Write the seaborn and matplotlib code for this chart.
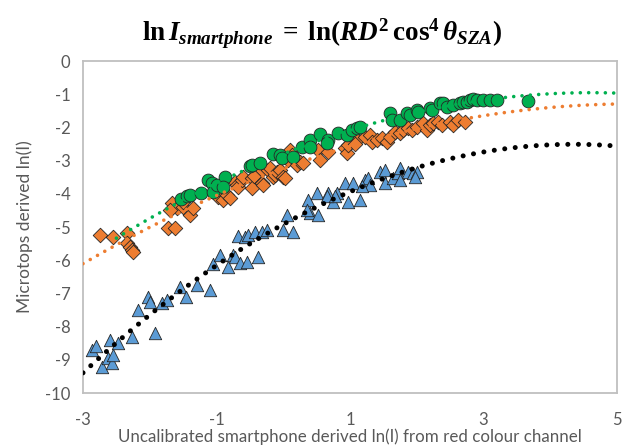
import numpy as np
import pandas as pd
import matplotlib
matplotlib.use("Agg")
import matplotlib.pyplot as plt
import seaborn as sns

# Green circles
green_x = [-1.53, -1.44, -1.40, -1.23, -1.13, -1.07, -1.05, -0.99, -0.87, -0.90,
           -0.50, -0.47, -0.35, -0.15, -0.05, -0.02, 0.15, 0.28, 0.40, 0.40,
           0.55, 0.67, 0.66, 0.82, 0.96, 1.03, 1.11, 1.15, 1.60, 1.63,
           1.75, 1.85, 1.90, 2.00, 2.02, 2.20, 2.23, 2.35, 2.39, 2.45,
           2.54, 2.65, 2.69, 2.75, 2.80, 2.84, 2.90, 2.99, 3.10, 3.20, 3.67]
green_y = [-4.16, -4.07, -4.04, -3.98, -3.58, -3.68, -3.95, -3.74, -3.49, -3.80,
           -3.16, -3.13, -3.07, -2.80, -2.83, -2.92, -2.89, -2.59, -2.38, -2.59,
           -2.20, -2.38, -2.47, -2.17, -2.23, -2.08, -2.02, -1.99, -1.57, -1.78,
           -1.78, -1.57, -1.63, -1.48, -1.54, -1.42, -1.48, -1.27, -1.27, -1.39,
           -1.33, -1.27, -1.24, -1.24, -1.18, -1.15, -1.18, -1.18, -1.18, -1.18, -1.21]

# Orange diamonds
orange_x = [-2.75, -2.55, -2.34, -2.34, -2.30, -2.27, -2.25, -1.73, -1.62, -1.67,
            -1.59, -1.70, -1.50, -1.40, -1.35, -1.50, -0.98, -0.92, -0.90, -0.84,
            -0.80, -0.72, -0.69, -0.68, -0.62, -0.60, -0.47, -0.47, -0.44, -0.32,
            -0.30, -0.32, -0.23, -0.20, -0.15, -0.12, -0.09, -0.05, 0.00, 0.03,
            0.10, 0.13, 0.07, 0.21, 0.25, 0.30, 0.52, 0.55, 0.67, 0.93,
            0.96, 0.97, 1.11, 1.08, 1.23, 1.30, 1.33, 1.40, 1.48, 1.55,
            1.60, 1.67, 1.75, 1.79, 1.87, 1.93, 2.00, 2.09, 2.15, 2.20,
            2.24, 2.32, 2.38, 2.50, 2.54, 2.62, 2.72]
orange_y = [-5.24, -5.30, -5.18, -5.48, -5.60, -5.69, -5.75, -5.03, -5.03, -4.28,
            -4.43, -4.49, -4.40, -4.64, -4.43, -4.25, -4.10, -3.95, -4.19, -4.04,
            -4.13, -3.65, -3.74, -3.80, -3.58, -3.49, -3.52, -3.83, -3.46, -3.68,
            -3.74, -3.28, -3.28, -3.22, -3.49, -3.43, -3.34, -3.28, -3.49, -3.52,
            -2.68, -2.83, -2.98, -3.13, -3.04, -3.07, -2.68, -2.98, -2.74, -2.62,
            -2.77, -2.53, -2.38, -2.50, -2.29, -2.23, -2.44, -2.38, -2.32, -2.44,
            -2.29, -2.14, -2.17, -2.08, -2.02, -2.08, -1.99, -1.87, -2.08, -1.93,
            -1.87, -1.84, -1.93, -1.84, -1.93, -1.78, -1.84]

# Blue triangles
blue_x = [-2.87, -2.81, -2.72, -2.63, -2.57, -2.60, -2.55, -2.48, -2.27, -2.18,
          -2.03, -2.00, -1.92, -1.82, -1.74, -1.55, -1.46, -1.29, -1.10, -1.05,
          -0.95, -0.83, -0.75, -0.72, -0.65, -0.54, -0.38, -0.68, -0.57, -0.53,
          -0.42, -0.32, -0.24, 0.00, 0.06, 0.15, 0.37, 0.51, 0.40, 0.52,
          0.36, 0.67, 0.75, 0.81, 0.93, 0.97, 1.05, 1.15, 1.23, 1.27,
          1.30, 1.45, 1.52, 1.52, 1.64, 1.72, 1.75, 1.87, 1.94, 2.00,
          1.97, 0.66, 0.78, 1.18, 1.75]
blue_y = [-8.71, -8.58, -9.22, -8.95, -9.10, -8.40, -8.86, -8.49, -8.31, -7.50,
          -7.11, -7.26, -8.19, -7.29, -7.20, -6.81, -7.11, -6.75, -6.90, -6.11,
          -5.84, -6.21, -5.84, -5.90, -6.08, -6.05, -5.90, -5.27, -5.30, -5.24,
          -5.15, -5.15, -5.09, -5.09, -4.64, -5.15, -4.19, -3.98, -4.58, -4.64,
          -4.49, -3.98, -4.25, -3.98, -3.68, -4.25, -3.68, -4.19, -3.58, -3.52,
          -3.74, -3.34, -3.28, -3.68, -3.52, -3.37, -3.22, -3.34, -3.37, -3.34,
          -3.49, -4.07, -4.07, -3.77, -3.58]

x_ticks = [-3, -1, 1, 3, 5]
y_ticks = [0, -1, -2, -3, -4, -5, -6, -7, -8, -9, -10]

green_df = pd.DataFrame({"x": green_x, "y": green_y})
orange_df = pd.DataFrame({"x": orange_x, "y": orange_y})
blue_df = pd.DataFrame({"x": blue_x, "y": blue_y})

sns.set_style("white")
plt.rcParams['font.family'] = ['Lato', 'DejaVu Sans']
plt.rcParams['axes.unicode_minus'] = False
plt.rcParams['mathtext.fontset'] = 'custom'
plt.rcParams['mathtext.rm'] = 'Liberation Serif:bold'
plt.rcParams['mathtext.bf'] = 'Liberation Serif:bold'
plt.rcParams['mathtext.it'] = 'Liberation Serif:italic:bold'

fig = plt.figure(figsize=(6.25, 4.47), dpi=100)
ax = fig.add_axes([0.1328, 0.1208, 0.8544, 0.7427])

sns.scatterplot(data=orange_df, x="x", y="y", marker="D", s=55, color="#ED7D31",
                edgecolor="#262626", linewidth=0.6, ax=ax, zorder=2)
sns.scatterplot(data=green_df, x="x", y="y", marker="o", s=85, color="#00B050",
                edgecolor="#262626", linewidth=0.6, ax=ax, zorder=3)
sns.scatterplot(data=blue_df, x="x", y="y", marker="^", s=80, color="#5B9BD5",
                edgecolor="#262626", linewidth=0.6, ax=ax, zorder=2)

# 2nd-order polynomial trendlines fitted to each series
def trend(df, x0, x1, color, lw, gap):
    coef = np.polyfit(df["x"], df["y"], 2)
    xs = np.linspace(x0, x1, 400)
    ax.plot(xs, np.polyval(coef, xs), color=color, lw=lw,
            linestyle=(0, (0.01, gap)), dash_capstyle="round", zorder=4)

trend(green_df, -2.5, 5, "#00B050", 2.6, 2.3)
trend(orange_df, -3, 5, "#ED7D31", 2.6, 2.3)
trend(blue_df, -3, 5, "black", 3.6, 2.1)

ax.set_xlim(-3, 5)
ax.set_ylim(-10, 0)
ax.set_xticks(x_ticks)
ax.set_yticks(y_ticks)
ax.set_xticklabels([str(t) for t in x_ticks])
ax.set_yticklabels([str(t) for t in y_ticks])
ax.tick_params(axis="both", length=0, labelsize=12, labelcolor="#595959")
ax.tick_params(axis="x", pad=14)
ax.tick_params(axis="y", pad=9)
for sp in ax.spines.values():
    sp.set_visible(True)
    sp.set_color("#BFBFBF")
    sp.set_linewidth(1.3)

ax.set_xlabel("Uncalibrated smartphone derived ln(I) from red colour channel",
              fontsize=12.2, color="#595959", labelpad=0)
ax.set_ylabel("Microtops derived ln(I)", fontsize=12.5, color="#595959", labelpad=9)

fig.text(0.515, 0.925,
         r'$\mathrm{ln}\,\mathit{I_{smartphone}}\; =\; \mathrm{ln}(\mathit{RD}^{\mathrm{2}}\,\mathrm{cos}^{\mathrm{4}}\,\mathit{\theta_{SZA}})$',
         ha="center", va="center", fontsize=19.5, color="black")

fig.savefig("out.png", dpi=100)
